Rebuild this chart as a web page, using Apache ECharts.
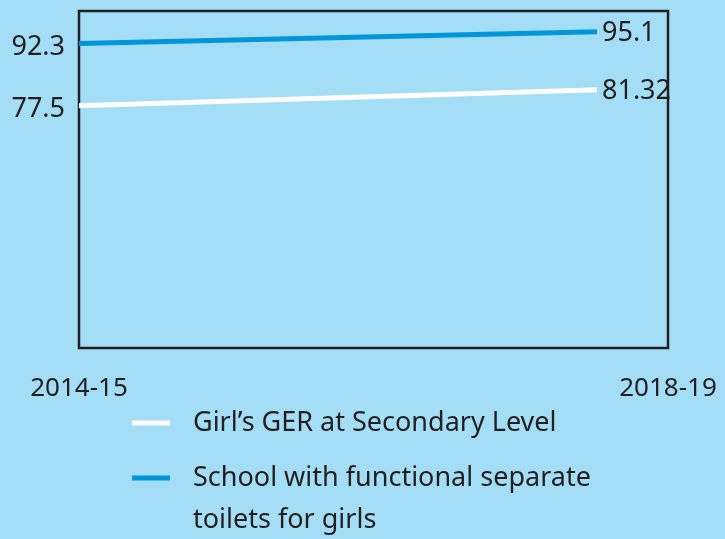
<!DOCTYPE html>
<html>
<head>
<meta charset="utf-8">
<script src="https://cdn.jsdelivr.net/npm/echarts@6/dist/echarts.min.js"></script>
<style>
  html, body { margin: 0; padding: 0; background: #a3ddf6; }
  #chart { width: 725px; height: 539px; }
</style>
</head>
<body>
<div id="chart"></div>
<script>
// Years shown on the horizontal axis
const years = ['2014-15', '2018-19'];
// Series names and values (per cent)
const gerName = 'Girl\u2019s GER at Secondary Level';
const gerValues = [77.5, 81.32];
const toiletName = 'School with functional separate toilets for girls';
const toiletValues = [92.3, 95.1];

const ink = '#231f20';
const fontFamily = '"Noto Sans", "Open Sans", sans-serif';
const lineGap = 42;

// first value labelled on the left of the line, last one on the right
function withEndLabels(values) {
  return values.map((v, i) => ({
    value: v,
    label: i === 0
      ? { position: 'left', distance: 14, offset: [0, 4] }
      : { position: 'right', distance: 5, offset: [0, 2] }
  }));
}

function lineSeries(name, values, color) {
  return {
    name: name,
    type: 'line',
    xAxisIndex: 1,
    yAxisIndex: 1,
    data: withEndLabels(values),
    showSymbol: true,
    symbol: 'circle',
    symbolSize: 0,
    lineStyle: { color: color, width: 5 },
    itemStyle: { color: color },
    label: {
      show: true,
      color: ink,
      fontSize: 27,
      fontFamily: fontFamily,
      formatter: p => String(p.value)
    },
    emphasis: { disabled: true },
    silent: true
  };
}

// one legend block per series; a leading blank line keeps the first
// line of wrapped text level with the swatch
function legendFor(name, top, leadBlank) {
  return {
    orient: 'vertical',
    left: 132,
    top: top,
    padding: 0,
    itemWidth: 38,
    itemHeight: 5,
    icon: 'rect',
    selectedMode: false,
    formatter: n => (leadBlank ? '\n' : '') + n,
    textStyle: {
      color: ink, fontSize: 27, fontFamily: fontFamily,
      lineHeight: lineGap, width: 440, overflow: 'break',
      padding: [0, 0, 0, 18]
    },
    data: [name]
  };
}

const chart = echarts.init(document.getElementById('chart'), null, { renderer: 'canvas' });
chart.setOption({
  animation: false,
  backgroundColor: '#a3ddf6',
  grid: [
    // framed panel carrying the year labels
    { left: 79, right: 57, top: 11, bottom: 191, show: true,
      borderColor: ink, borderWidth: 2.5, backgroundColor: 'transparent' },
    // plotting area for the two lines
    { left: 79, right: 128, top: 11, bottom: 191 }
  ],
  xAxis: [
    {
      gridIndex: 0,
      type: 'category',
      data: years,
      boundaryGap: false,
      axisLine: { show: false },
      axisTick: { show: false },
      splitLine: { show: false },
      axisLabel: {
        color: ink, fontSize: 26, fontFamily: fontFamily, margin: 28,
        interval: 0
      }
    },
    {
      gridIndex: 1,
      type: 'category',
      data: years,
      boundaryGap: false,
      show: false
    }
  ],
  yAxis: [
    { gridIndex: 0, type: 'value', show: false, splitLine: { show: false } },
    { gridIndex: 1, type: 'value', min: 20, max: 100, show: false, splitLine: { show: false } }
  ],
  legend: [
    legendFor(gerName, 402, false),
    legendFor(toiletName, 415, true)
  ],
  series: [
    lineSeries(gerName, gerValues, '#ffffff'),
    lineSeries(toiletName, toiletValues, '#0096d8')
  ]
});
</script>
</body>
</html>
